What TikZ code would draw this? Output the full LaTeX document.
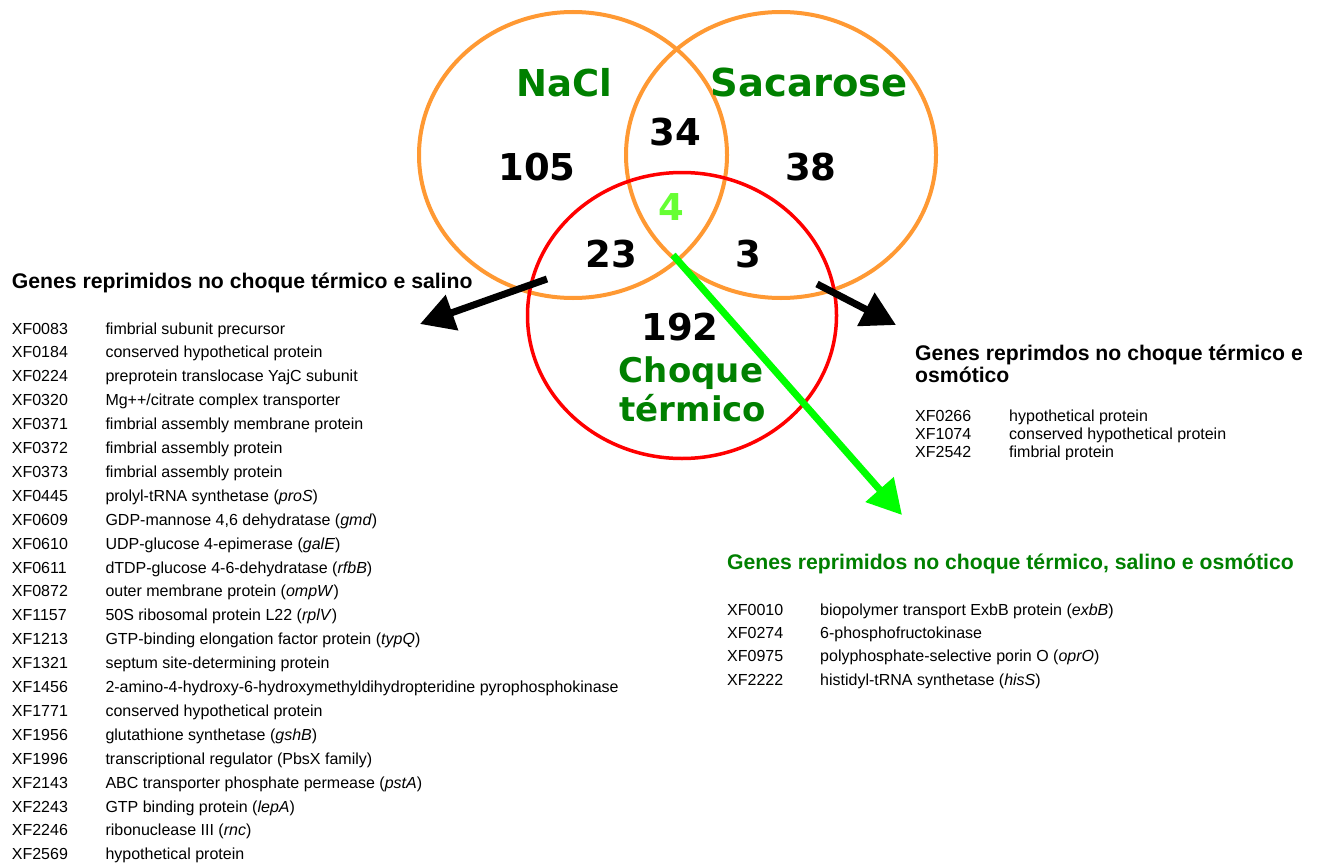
\documentclass[tikz,border=0pt]{standalone}
\usepackage{fontspec}
\setmainfont{Liberation Sans}
\newfontfamily\vennfont{DejaVu Sans}
\usetikzlibrary{arrows.meta}
\definecolor{vorange}{RGB}{255,153,51}
\definecolor{vred}{RGB}{255,0,0}
\definecolor{vgreen}{RGB}{0,128,0}
\definecolor{lgreen}{RGB}{102,255,51}
\definecolor{agreen}{RGB}{0,255,0}
\begin{document}
\begin{tikzpicture}[x=1pt,y=-1pt,
 vnum/.style={font=\vennfont\bfseries\fontsize{37}{40}\selectfont, inner sep=0pt, anchor=base},
 vlab/.style={vnum, text=vgreen},
 vlab2/.style={vlab, font=\vennfont\bfseries\fontsize{34}{38}\selectfont},
 head/.style={font=\bfseries\fontsize{21.2}{24}\selectfont, inner sep=0pt, anchor=base west},
 item/.style={font=\fontsize{16}{18}\selectfont, inner sep=0pt, anchor=base west},
 bigarrow/.style={line width=7pt, -{Triangle[length=34pt,width=36pt]}},
 setring/.style={vorange, line width=4pt},
 heatring/.style={vred, line width=3.5pt},
]
\useasboundingbox[fill=white] (0,0) rectangle (1321,864);

% Venn rings
\draw[setring] (573,155) ellipse [x radius=154, y radius=143];
\draw[setring] (781,155) ellipse [x radius=155, y radius=143];
\draw[heatring] (682,315.5) ellipse [x radius=154.5, y radius=143];

% Venn labels and counts
\node[vlab] (nacl) at (564,97) {NaCl};
\node[vlab, font=\vennfont\bfseries\fontsize{38.5}{40}\selectfont] (sac) at (809,97) {Sacarose};
\node[vnum] (n105) at (537,180) {105};
\node[vnum] (n34) at (675.6,145) {34};
\node[vnum] (n38) at (810.8,180) {38};
\node[vnum, text=lgreen] (n4) at (671.6,220) {4};
\node[vnum] (n23) at (611,267) {23};
\node[vnum] (n3) at (748,267) {3};
\node[vnum] (n192) at (680,340) {192};
\node[vlab2] (choque) at (691,382) {Choque};
\node[vlab2] (termico) at (693,421.7) {térmico};

% arrows
\coordinate (a1s) at (547,279);
\coordinate (a1e) at (420,324);
\coordinate (a2s) at (817,284);
\coordinate (a2e) at (896,325);
\coordinate (a3s) at (673,255);
\coordinate (a3e) at (902,515);
\draw[bigarrow, black] (a1s) -- (a1e);
\draw[bigarrow, black] (a2s) -- (a2e);
\draw[bigarrow, agreen] (a3s) -- (a3e);

% left list
\node[head] (lh) at (11.7,288.5) {Genes reprimidos no choque térmico e salino};
\foreach \c/\d [count=\i from 0] in {
 XF0083/{fimbrial subunit precursor},
 XF0184/{conserved hypothetical protein},
 XF0224/{preprotein translocase YajC subunit},
 XF0320/{Mg++/citrate complex transporter},
 XF0371/{fimbrial assembly membrane protein},
 XF0372/{fimbrial assembly protein},
 XF0373/{fimbrial assembly protein},
 XF0445/{prolyl-tRNA synthetase (\textit{proS})},
 XF0609/{GDP-mannose 4,6 dehydratase (\textit{gmd})},
 XF0610/{UDP-glucose 4-epimerase (\textit{galE})},
 XF0611/{dTDP-glucose 4-6-dehydratase (\textit{rfbB})},
 XF0872/{outer membrane protein (\textit{ompW})},
 XF1157/{50S ribosomal protein L22 (\textit{rplV})},
 XF1213/{GTP-binding elongation factor protein (\textit{typQ})},
 XF1321/{septum site-determining protein},
 XF1456/{2-amino-4-hydroxy-6-hydroxymethyldihydropteridine pyrophosphokinase},
 XF1771/{conserved hypothetical protein},
 XF1956/{glutathione synthetase (\textit{gshB})},
 XF1996/{transcriptional regulator (PbsX family)},
 XF2143/{ABC transporter phosphate permease (\textit{pstA})},
 XF2243/{GTP binding protein (\textit{lepA})},
 XF2246/{ribonuclease III (\textit{rnc})},
 XF2569/{hypothetical protein}} {
  \node[item] (lc\i) at (11.7,334+23.9*\i) {\c};
  \node[item] (ld\i) at (105.3,334+23.9*\i) {\d};
}

% right list
\node[head] (rh1) at (915,360.5) {Genes reprimdos no choque térmico e};
\node[head] (rh2) at (915,382.5) {osmótico};
\begin{scope}
\clip (900,400) rectangle (1321,459);
\foreach \c/\d [count=\i from 0] in {
 XF0266/{hypothetical protein},
 XF1074/{conserved hypothetical protein},
 XF2542/{fimbrial protein}} {
  \node[item] (rc\i) at (915,421+18.4*\i) {\c};
  \node[item] (rd\i) at (1009,421+18.4*\i) {\d};
}
\end{scope}

% green list
\node[head, text=vgreen] (gh) at (727,569) {Genes reprimidos no choque térmico, salino e osmótico};
\foreach \c/\d [count=\i from 0] in {
 XF0010/{biopolymer transport ExbB protein (\textit{exbB})},
 XF0274/{6-phosphofructokinase},
 XF0975/{polyphosphate-selective porin O (\textit{oprO})},
 XF2222/{histidyl-tRNA synthetase (\textit{hisS})}} {
  \node[item] (gc\i) at (727,615+23.4*\i) {\c};
  \node[item] (gd\i) at (820,615+23.4*\i) {\d};
}
\end{tikzpicture}
\end{document}
